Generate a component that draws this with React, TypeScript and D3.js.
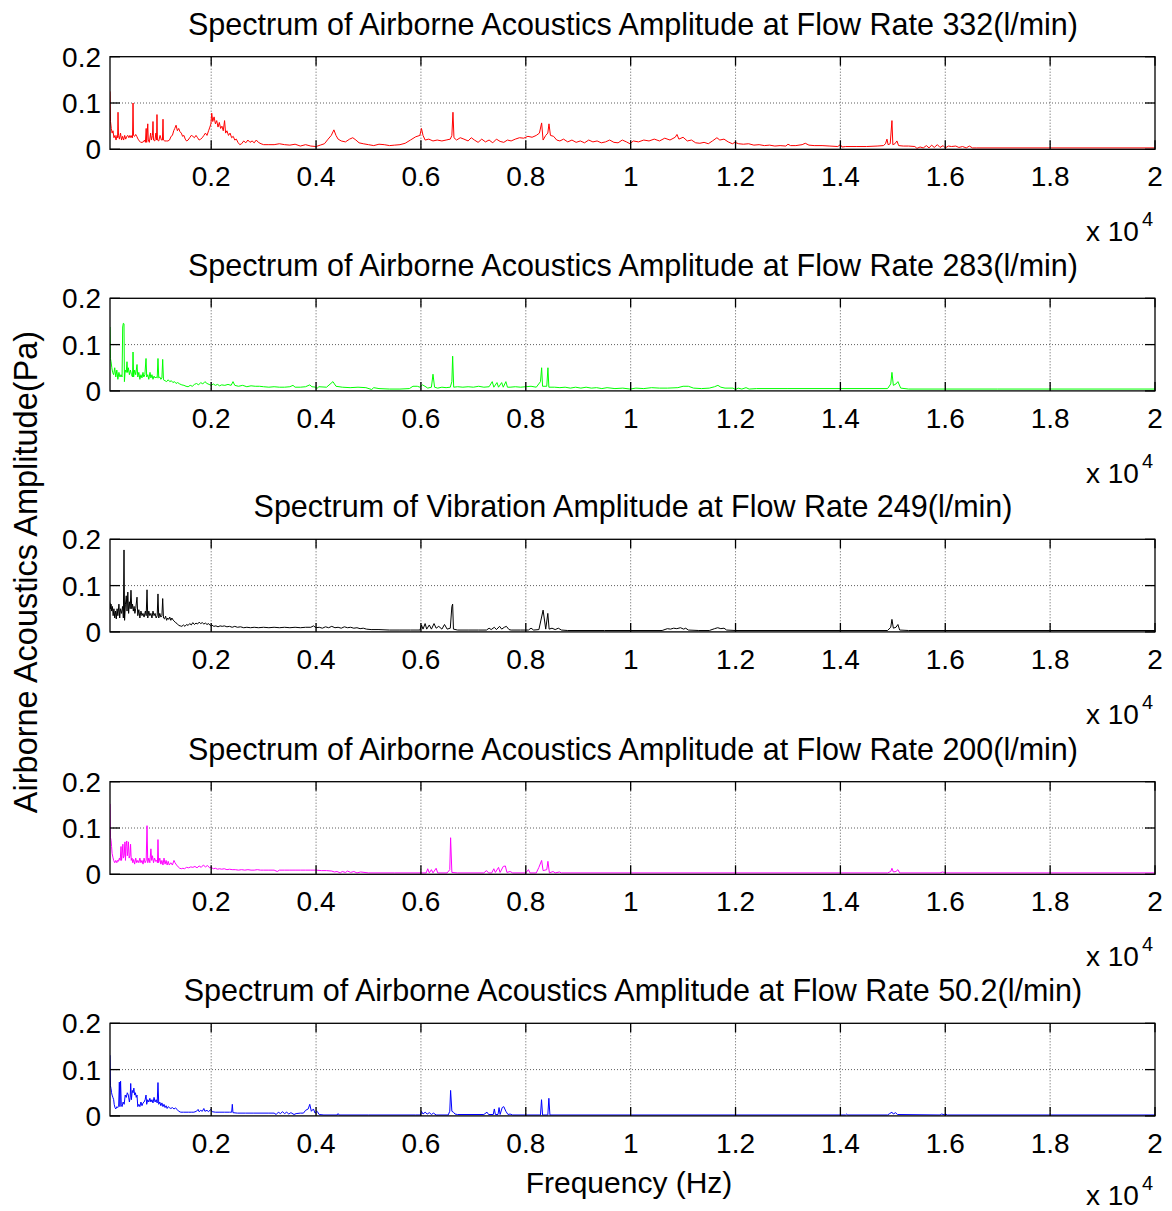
import React from "react";
import * as d3 from "d3";

// ---------- data ----------
const xTickValues = [2000, 4000, 6000, 8000, 10000, 12000, 14000, 16000, 18000, 20000];
const xTickLabels = ["0.2", "0.4", "0.6", "0.8", "1", "1.2", "1.4", "1.6", "1.8", "2"];
const yTickValues = [0, 0.1, 0.2];
const yTickLabels = ["0", "0.1", "0.2"];

const panelTitles = [
  "Spectrum of Airborne Acoustics Amplitude at Flow Rate 332(l/min)",
  "Spectrum of Airborne Acoustics Amplitude at Flow Rate 283(l/min)",
  "Spectrum of Vibration Amplitude at Flow Rate 249(l/min)",
  "Spectrum of Airborne Acoustics Amplitude at Flow Rate 200(l/min)",
  "Spectrum of Airborne Acoustics Amplitude at Flow Rate 50.2(l/min)",
];
const panelColors = ["#ff0000", "#00ff00", "#000000", "#ff00ff", "#0000ff"];

// [frequency Hz, amplitude Pa]
const spec332: [number, number][] = [
[70,0.125],[80,0.06],[95,0.045],[110,0.035],[127,0.04],[145,0.025],[165,0.03],[185,0.02],[205,0.03],[215,0.025],[223,0.08],[232,0.03],[250,0.022],[270,0.035],[290,0.02],[310,0.028],[330,0.02],[350,0.03],[370,0.022],[390,0.028],[410,0.03],[430,0.025],[450,0.03],[470,0.025],[490,0.03],[500,0.025],[509,0.1],[518,0.03],[540,0.028],[560,0.032],[580,0.028],[605,0.022],[630,0.018],[655,0.015],[680,0.015],[705,0.016],[730,0.02],[745,0.015],[760,0.045],[770,0.015],[790,0.055],[800,0.02],[820,0.015],[845,0.035],[860,0.02],[880,0.03],[890,0.06],[900,0.02],[925,0.018],[945,0.035],[958,0.02],[966,0.075],[975,0.02],[1000,0.018],[1025,0.03],[1050,0.02],[1070,0.02],[1081,0.065],[1090,0.02],[1115,0.018],[1145,0.018],[1175,0.018],[1205,0.02],[1235,0.028],[1260,0.03],[1285,0.04],[1305,0.045],[1330,0.052],[1355,0.04],[1380,0.045],[1405,0.038],[1430,0.035],[1455,0.028],[1480,0.03],[1505,0.022],[1530,0.018],[1560,0.02],[1590,0.025],[1620,0.03],[1650,0.028],[1680,0.025],[1710,0.03],[1740,0.025],[1770,0.02],[1800,0.022],[1830,0.025],[1860,0.03],[1890,0.035],[1920,0.03],[1950,0.04],[1975,0.048],[1995,0.055],[2010,0.078],[2030,0.06],[2055,0.07],[2080,0.055],[2105,0.062],[2130,0.048],[2155,0.058],[2180,0.045],[2205,0.05],[2230,0.04],[2255,0.062],[2275,0.035],[2300,0.04],[2330,0.03],[2360,0.035],[2390,0.025],[2420,0.028],[2450,0.02],[2480,0.022],[2510,0.015],[2545,0.01],[2580,0.012],[2620,0.018],[2660,0.014],[2700,0.02],[2740,0.015],[2780,0.018],[2820,0.014],[2860,0.02],[2900,0.015],[2950,0.012],[3000,0.01],[3100,0.01],[3200,0.01],[3300,0.012],[3400,0.01],[3500,0.009],[3600,0.011],[3700,0.007],[3800,0.01],[3900,0.007],[4000,0.006],[4080,0.009],[4160,0.012],[4230,0.022],[4290,0.03],[4340,0.042],[4380,0.03],[4420,0.022],[4480,0.018],[4560,0.016],[4640,0.022],[4700,0.025],[4760,0.02],[4820,0.014],[4900,0.012],[5000,0.01],[5100,0.008],[5200,0.011],[5300,0.01],[5400,0.008],[5500,0.009],[5600,0.01],[5700,0.013],[5800,0.02],[5900,0.027],[5980,0.03],[6010,0.045],[6040,0.03],[6080,0.02],[6150,0.022],[6230,0.018],[6310,0.02],[6400,0.018],[6480,0.02],[6560,0.022],[6590,0.03],[6611,0.08],[6630,0.025],[6680,0.02],[6750,0.025],[6820,0.022],[6900,0.018],[6960,0.025],[7020,0.02],[7090,0.015],[7160,0.022],[7230,0.016],[7300,0.02],[7370,0.014],[7440,0.022],[7510,0.017],[7580,0.015],[7650,0.02],[7720,0.018],[7800,0.022],[7880,0.025],[7960,0.024],[8040,0.028],[8120,0.026],[8200,0.03],[8260,0.035],[8302,0.057],[8330,0.02],[8380,0.03],[8420,0.035],[8442,0.055],[8470,0.03],[8530,0.028],[8590,0.02],[8650,0.018],[8720,0.022],[8800,0.016],[8880,0.02],[8960,0.015],[9040,0.018],[9120,0.014],[9200,0.02],[9280,0.016],[9360,0.018],[9440,0.014],[9520,0.016],[9600,0.02],[9680,0.015],[9760,0.014],[9840,0.02],[9920,0.016],[9986,0.012],[10050,0.018],[10150,0.016],[10250,0.02],[10350,0.018],[10450,0.022],[10550,0.018],[10650,0.024],[10750,0.02],[10850,0.026],[10883,0.032],[10920,0.022],[11000,0.026],[11080,0.018],[11160,0.02],[11240,0.014],[11320,0.013],[11400,0.015],[11480,0.012],[11560,0.018],[11645,0.025],[11700,0.02],[11780,0.022],[11860,0.016],[11940,0.012],[11989,0.015],[12060,0.012],[12150,0.011],[12250,0.012],[12350,0.009],[12450,0.01],[12550,0.008],[12650,0.009],[12750,0.007],[12850,0.008],[12960,0.007],[13000,0.011],[13050,0.008],[13150,0.008],[13270,0.01],[13330,0.013],[13400,0.009],[13500,0.008],[13650,0.008],[13800,0.007],[13950,0.006],[14000,0.01],[14030,0.005],[14100,0.006],[14300,0.006],[14500,0.006],[14700,0.007],[14820,0.008],[14860,0.012],[14888,0.022],[14910,0.01],[14950,0.012],[14983,0.062],[15000,0.01],[15040,0.012],[15078,0.018],[15110,0.008],[15200,0.007],[15300,0.007],[15420,0.006],[15460,0.002],[15520,0.005],[15580,0.003],[15640,0.008],[15690,0.003],[15740,0.009],[15790,0.004],[15850,0.01],[15900,0.004],[15960,0.008],[16000,0.003],[16060,0.007],[16120,0.006],[16200,0.007],[16260,0.004],[16330,0.006],[16400,0.003],[16460,0.007],[16520,0.003],[16600,0.003],[18000,0.003],[20000,0.003]
];

const spec283: [number, number][] = [
[70,0.138],[78,0.07],[90,0.063],[105,0.05],[120,0.04],[140,0.035],[160,0.05],[180,0.03],[200,0.045],[220,0.025],[240,0.04],[260,0.03],[280,0.035],[300,0.03],[312,0.138],[324,0.146],[337,0.145],[345,0.02],[360,0.045],[380,0.04],[394,0.063],[405,0.04],[420,0.05],[440,0.035],[460,0.045],[480,0.035],[500,0.03],[509,0.084],[520,0.03],[540,0.045],[560,0.035],[585,0.057],[600,0.03],[620,0.04],[640,0.025],[660,0.035],[680,0.028],[699,0.04],[715,0.03],[735,0.035],[757,0.07],[770,0.03],[790,0.035],[810,0.025],[833,0.04],[850,0.028],[870,0.035],[890,0.025],[910,0.032],[930,0.028],[950,0.03],[970,0.028],[985,0.07],[1000,0.028],[1020,0.03],[1040,0.025],[1060,0.028],[1075,0.068],[1090,0.024],[1120,0.022],[1150,0.02],[1180,0.024],[1210,0.02],[1240,0.022],[1270,0.018],[1300,0.02],[1330,0.016],[1360,0.018],[1400,0.015],[1440,0.013],[1480,0.012],[1520,0.01],[1560,0.009],[1600,0.012],[1640,0.01],[1680,0.014],[1720,0.016],[1760,0.013],[1800,0.018],[1840,0.015],[1880,0.02],[1920,0.016],[1960,0.014],[2000,0.012],[2040,0.015],[2080,0.012],[2120,0.014],[2160,0.011],[2200,0.013],[2260,0.012],[2320,0.014],[2380,0.012],[2416,0.02],[2450,0.012],[2520,0.01],[2600,0.012],[2680,0.009],[2760,0.011],[2840,0.01],[2920,0.01],[3000,0.009],[3100,0.008],[3200,0.009],[3300,0.008],[3400,0.008],[3500,0.009],[3560,0.012],[3600,0.008],[3700,0.008],[3800,0.009],[3880,0.013],[3920,0.009],[4000,0.008],[4017,0.005],[4050,0.009],[4200,0.008],[4322,0.02],[4380,0.01],[4500,0.008],[4650,0.007],[4800,0.008],[4950,0.007],[5060,0.003],[5100,0.007],[5200,0.005],[5400,0.004],[5600,0.004],[5780,0.005],[5848,0.01],[5930,0.01],[5982,0.008],[6030,0.013],[6077,0.01],[6130,0.006],[6200,0.008],[6230,0.036],[6260,0.008],[6320,0.006],[6400,0.008],[6480,0.007],[6560,0.008],[6590,0.02],[6605,0.075],[6625,0.008],[6700,0.009],[6800,0.008],[6900,0.009],[7000,0.008],[7100,0.01],[7200,0.008],[7300,0.009],[7360,0.02],[7390,0.008],[7450,0.018],[7480,0.008],[7540,0.018],[7570,0.008],[7620,0.02],[7650,0.008],[7700,0.008],[7800,0.009],[7900,0.008],[8000,0.009],[8100,0.01],[8200,0.008],[8280,0.02],[8302,0.05],[8320,0.01],[8400,0.01],[8422,0.05],[8440,0.008],[8550,0.008],[8650,0.007],[8750,0.008],[8850,0.006],[8950,0.008],[9050,0.006],[9150,0.008],[9250,0.006],[9350,0.007],[9450,0.005],[9550,0.007],[9700,0.005],[9850,0.006],[9986,0.004],[10100,0.006],[10250,0.005],[10400,0.007],[10550,0.006],[10700,0.006],[10900,0.007],[11000,0.01],[11100,0.01],[11200,0.006],[11350,0.005],[11500,0.006],[11600,0.009],[11664,0.012],[11720,0.008],[11800,0.006],[11950,0.006],[12000,0.003],[12050,0.006],[12120,0.004],[12200,0.007],[12260,0.004],[12400,0.005],[13000,0.005],[14000,0.005],[14900,0.005],[14960,0.015],[14983,0.04],[15010,0.012],[15060,0.015],[15097,0.02],[15150,0.006],[15300,0.004],[17000,0.004],[20000,0.004]
];

const spec249: [number, number][] = [
[70,0.063],[80,0.05],[90,0.06],[100,0.045],[115,0.055],[130,0.035],[145,0.05],[160,0.03],[175,0.045],[190,0.028],[205,0.05],[220,0.035],[240,0.06],[255,0.03],[270,0.05],[290,0.04],[310,0.055],[325,0.03],[337,0.177],[348,0.025],[365,0.06],[380,0.078],[395,0.045],[410,0.086],[425,0.04],[440,0.065],[455,0.05],[470,0.09],[485,0.05],[500,0.06],[515,0.045],[530,0.055],[545,0.04],[560,0.05],[585,0.075],[600,0.035],[620,0.048],[640,0.03],[660,0.045],[680,0.035],[699,0.04],[720,0.032],[745,0.045],[760,0.035],[776,0.091],[790,0.03],[810,0.045],[830,0.035],[850,0.04],[870,0.03],[890,0.045],[910,0.035],[930,0.04],[950,0.03],[970,0.035],[985,0.082],[1000,0.03],[1020,0.04],[1040,0.032],[1060,0.035],[1075,0.072],[1090,0.03],[1110,0.028],[1130,0.034],[1150,0.025],[1170,0.03],[1190,0.027],[1210,0.032],[1230,0.025],[1250,0.03],[1270,0.026],[1290,0.024],[1320,0.02],[1350,0.018],[1380,0.014],[1410,0.013],[1440,0.012],[1470,0.015],[1500,0.012],[1530,0.016],[1560,0.014],[1590,0.018],[1620,0.015],[1650,0.02],[1680,0.016],[1710,0.019],[1740,0.017],[1770,0.021],[1800,0.018],[1830,0.02],[1860,0.017],[1890,0.019],[1920,0.016],[1950,0.018],[1980,0.014],[2010,0.015],[2050,0.012],[2090,0.013],[2130,0.011],[2170,0.013],[2210,0.012],[2250,0.013],[2300,0.011],[2350,0.012],[2400,0.01],[2450,0.012],[2500,0.01],[2560,0.011],[2620,0.009],[2680,0.01],[2750,0.009],[2820,0.01],[2900,0.009],[3000,0.01],[3100,0.009],[3200,0.01],[3300,0.009],[3400,0.01],[3500,0.009],[3600,0.01],[3700,0.009],[3800,0.01],[3900,0.01],[3950,0.013],[4000,0.009],[4060,0.01],[4120,0.008],[4180,0.011],[4240,0.009],[4300,0.012],[4360,0.009],[4420,0.01],[4480,0.008],[4540,0.011],[4600,0.009],[4660,0.01],[4720,0.008],[4780,0.009],[4840,0.007],[4900,0.008],[4960,0.006],[5050,0.005],[5200,0.005],[5400,0.004],[5600,0.004],[5800,0.004],[5982,0.004],[6010,0.015],[6040,0.006],[6080,0.018],[6110,0.006],[6160,0.015],[6200,0.006],[6250,0.018],[6290,0.008],[6340,0.012],[6400,0.006],[6450,0.016],[6500,0.006],[6560,0.008],[6590,0.055],[6605,0.06],[6620,0.006],[6700,0.004],[6900,0.004],[7100,0.004],[7250,0.004],[7300,0.008],[7340,0.005],[7400,0.01],[7440,0.005],[7500,0.012],[7540,0.006],[7590,0.01],[7630,0.012],[7680,0.005],[7720,0.004],[7900,0.004],[8050,0.004],[8100,0.008],[8150,0.004],[8250,0.005],[8330,0.047],[8380,0.006],[8420,0.04],[8445,0.006],[8500,0.008],[8560,0.005],[8620,0.008],[8680,0.004],[8800,0.003],[9500,0.003],[10000,0.003],[10600,0.003],[10700,0.007],[10760,0.006],[10820,0.008],[10880,0.007],[10950,0.009],[11010,0.006],[11050,0.008],[11100,0.004],[11300,0.003],[11500,0.003],[11600,0.007],[11660,0.009],[11720,0.007],[11780,0.008],[11830,0.004],[12000,0.003],[14900,0.003],[14960,0.01],[14983,0.027],[15010,0.008],[15060,0.01],[15097,0.016],[15130,0.004],[15300,0.003],[20000,0.003]
];

const spec200: [number, number][] = [
[70,0.152],[78,0.08],[90,0.073],[100,0.06],[110,0.045],[125,0.037],[140,0.03],[160,0.025],[180,0.03],[200,0.025],[215,0.03],[230,0.028],[250,0.035],[265,0.03],[280,0.06],[290,0.03],[300,0.04],[315,0.065],[325,0.035],[340,0.04],[355,0.07],[365,0.03],[375,0.06],[390,0.072],[400,0.04],[410,0.05],[422,0.07],[435,0.035],[450,0.04],[462,0.065],[475,0.03],[490,0.035],[505,0.025],[520,0.032],[540,0.022],[560,0.035],[580,0.025],[600,0.03],[620,0.025],[640,0.035],[660,0.025],[680,0.03],[700,0.022],[720,0.035],[740,0.025],[760,0.03],[776,0.105],[790,0.025],[810,0.035],[830,0.025],[850,0.055],[865,0.03],[880,0.04],[900,0.025],[920,0.035],[940,0.028],[960,0.03],[975,0.025],[985,0.075],[997,0.025],[1020,0.035],[1040,0.022],[1060,0.03],[1080,0.02],[1100,0.035],[1120,0.022],[1140,0.03],[1160,0.02],[1180,0.028],[1200,0.02],[1230,0.025],[1260,0.02],[1290,0.03],[1310,0.025],[1340,0.02],[1370,0.016],[1400,0.013],[1430,0.012],[1460,0.013],[1490,0.012],[1530,0.015],[1570,0.014],[1610,0.016],[1650,0.015],[1690,0.017],[1730,0.014],[1770,0.018],[1810,0.015],[1850,0.02],[1890,0.016],[1930,0.019],[1970,0.014],[2000,0.015],[2040,0.012],[2080,0.013],[2120,0.011],[2160,0.012],[2200,0.011],[2250,0.012],[2300,0.01],[2350,0.011],[2400,0.01],[2460,0.01],[2520,0.009],[2580,0.01],[2640,0.009],[2700,0.01],[2760,0.009],[2820,0.009],[2880,0.01],[2940,0.009],[3000,0.009],[3100,0.009],[3200,0.009],[3260,0.006],[3300,0.009],[3400,0.009],[3500,0.009],[3600,0.009],[3700,0.009],[3800,0.009],[3900,0.009],[4000,0.009],[4100,0.008],[4200,0.008],[4300,0.007],[4350,0.005],[4400,0.006],[4460,0.003],[4500,0.006],[4560,0.004],[4600,0.007],[4660,0.004],[4720,0.006],[4780,0.003],[4850,0.005],[5000,0.003],[5500,0.003],[6000,0.003],[6100,0.003],[6130,0.012],[6160,0.003],[6200,0.01],[6230,0.003],[6290,0.013],[6320,0.003],[6500,0.003],[6550,0.01],[6566,0.079],[6590,0.004],[6700,0.003],[7200,0.003],[7250,0.008],[7290,0.003],[7350,0.003],[7390,0.012],[7420,0.004],[7480,0.015],[7510,0.004],[7570,0.017],[7610,0.018],[7640,0.004],[7700,0.006],[7750,0.003],[8000,0.003],[8050,0.01],[8080,0.003],[8200,0.003],[8250,0.015],[8302,0.03],[8330,0.008],[8400,0.01],[8422,0.028],[8450,0.003],[8520,0.006],[8560,0.003],[8640,0.005],[8680,0.003],[10000,0.003],[14900,0.003],[14960,0.006],[14983,0.013],[15010,0.005],[15060,0.006],[15097,0.01],[15130,0.003],[15900,0.003],[15950,0.005],[16000,0.003],[20000,0.003]
];

const spec50_2: [number, number][] = [
[70,0.131],[78,0.065],[90,0.059],[100,0.05],[110,0.045],[125,0.04],[140,0.035],[150,0.025],[165,0.018],[180,0.015],[200,0.02],[220,0.018],[235,0.02],[248,0.073],[260,0.02],[272,0.075],[285,0.025],[300,0.02],[320,0.03],[340,0.025],[360,0.045],[380,0.04],[400,0.05],[420,0.045],[440,0.03],[455,0.04],[465,0.07],[478,0.035],[495,0.055],[510,0.05],[525,0.06],[540,0.045],[555,0.05],[570,0.04],[585,0.045],[600,0.02],[620,0.025],[640,0.02],[660,0.03],[680,0.022],[700,0.028],[720,0.03],[740,0.035],[757,0.045],[770,0.025],[790,0.035],[810,0.03],[830,0.038],[850,0.03],[870,0.035],[890,0.028],[910,0.04],[930,0.03],[950,0.035],[970,0.028],[985,0.072],[1000,0.025],[1020,0.03],[1040,0.022],[1060,0.028],[1080,0.02],[1100,0.025],[1120,0.018],[1140,0.022],[1160,0.016],[1180,0.02],[1200,0.018],[1230,0.016],[1260,0.018],[1290,0.015],[1320,0.017],[1350,0.014],[1380,0.01],[1420,0.008],[1470,0.008],[1520,0.008],[1570,0.008],[1620,0.008],[1670,0.008],[1720,0.01],[1750,0.014],[1770,0.009],[1800,0.012],[1830,0.01],[1860,0.016],[1880,0.01],[1920,0.012],[1950,0.009],[1990,0.014],[2020,0.009],[2080,0.008],[2150,0.008],[2250,0.008],[2350,0.008],[2390,0.008],[2403,0.025],[2415,0.007],[2500,0.006],[2650,0.006],[2800,0.006],[2950,0.006],[3100,0.006],[3200,0.006],[3240,0.003],[3280,0.008],[3320,0.005],[3360,0.009],[3400,0.005],[3440,0.008],[3480,0.004],[3520,0.007],[3580,0.003],[3620,0.005],[3700,0.006],[3760,0.006],[3800,0.012],[3850,0.015],[3880,0.025],[3910,0.01],[3950,0.015],[3980,0.006],[4020,0.01],[4060,0.003],[4150,0.002],[4400,0.002],[4420,0.005],[4440,0.002],[5000,0.002],[5900,0.002],[5990,0.002],[6010,0.01],[6040,0.004],[6080,0.008],[6120,0.004],[6160,0.007],[6200,0.003],[6240,0.006],[6290,0.002],[6520,0.002],[6550,0.01],[6566,0.055],[6590,0.01],[6620,0.008],[6650,0.004],[6700,0.003],[7200,0.003],[7260,0.008],[7290,0.003],[7380,0.003],[7400,0.015],[7420,0.003],[7470,0.003],[7490,0.018],[7510,0.003],[7550,0.018],[7580,0.02],[7620,0.01],[7660,0.003],[7700,0.004],[7750,0.002],[8280,0.002],[8300,0.035],[8320,0.002],[8420,0.002],[8440,0.038],[8460,0.002],[10000,0.002],[14100,0.002],[14120,0.004],[14140,0.002],[14900,0.002],[14940,0.005],[14983,0.008],[15010,0.004],[15050,0.007],[15090,0.003],[15900,0.002],[15930,0.004],[16000,0.002],[16010,0.004],[16040,0.002],[20000,0.002]
];

const panelSeries = [spec332, spec283, spec249, spec200, spec50_2];

// ---------- layout ----------
const W = 1172;
const H = 1211;
const plotLeft = 110;
const plotRight = 1155;
const panelTops = [56.7, 298.3, 539.3, 781.7, 1023.3];
const panelH = 92.6;
const FONT = "'Liberation Sans', Arial, Helvetica, sans-serif";

const xScale = d3.scaleLinear().domain([70, 20000]).range([plotLeft, plotRight]);

function Panel({ idx }: { idx: number }) {
  const top = panelTops[idx];
  const bottom = top + panelH;
  const yScale = d3.scaleLinear().domain([0, 0.2]).range([bottom, top]);
  const line = d3
    .line<[number, number]>()
    .x((d) => xScale(d[0]))
    .y((d) => yScale(d[1]));
  const tickLen = 9;
  const clipId = `clip${idx}`;
  const expOffset = idx === panelTitles.length - 1 ? 89 : 92;
  return (
    <g>
      <defs>
        <clipPath id={clipId}>
          <rect x={plotLeft} y={top} width={plotRight - plotLeft} height={panelH} />
        </clipPath>
      </defs>
      <rect x={plotLeft} y={top} width={plotRight - plotLeft} height={panelH} fill="#fff" />
      {/* grid */}
      {xTickValues.slice(0, -1).map((v) => (
        <line key={"gx" + v} x1={xScale(v)} x2={xScale(v)} y1={top} y2={bottom}
          stroke="#333" strokeWidth={0.8} strokeDasharray="1 2" />
      ))}
      <line x1={plotLeft} x2={plotRight} y1={yScale(0.1)} y2={yScale(0.1)}
        stroke="#333" strokeWidth={0.8} strokeDasharray="1 2" />
      {/* data */}
      <path d={line(panelSeries[idx]) || ""} fill="none" stroke={panelColors[idx]}
        strokeWidth={1} clipPath={`url(#${clipId})`} strokeLinejoin="round" />
      {/* box */}
      <rect x={plotLeft} y={top} width={plotRight - plotLeft} height={panelH}
        fill="none" stroke="#000" strokeWidth={1.3} />
      {/* x ticks */}
      {xTickValues.map((v) => (
        <g key={"tx" + v}>
          <line x1={xScale(v)} x2={xScale(v)} y1={top} y2={top + tickLen} stroke="#000" strokeWidth={1.3} />
          <line x1={xScale(v)} x2={xScale(v)} y1={bottom} y2={bottom - tickLen} stroke="#000" strokeWidth={1.3} />
        </g>
      ))}
      {/* y ticks */}
      {yTickValues.map((v) => (
        <g key={"ty" + v}>
          <line x1={plotLeft} x2={plotLeft + 10} y1={yScale(v)} y2={yScale(v)} stroke="#000" strokeWidth={1.3} />
          <line x1={plotRight} x2={plotRight - 10} y1={yScale(v)} y2={yScale(v)} stroke="#000" strokeWidth={1.3} />
        </g>
      ))}
      {/* x tick labels */}
      {xTickValues.map((v, i) => (
        <text key={"lx" + v} x={xScale(v)} y={bottom + 37} textAnchor="middle"
          fontSize={28} fontFamily={FONT} fill="#000">{xTickLabels[i]}</text>
      ))}
      {/* y tick labels */}
      {yTickValues.map((v, i) => (
        <text key={"ly" + v} x={101} y={yScale(v) + 10} textAnchor="end"
          fontSize={28} fontFamily={FONT} fill="#000">{yTickLabels[i]}</text>
      ))}
      {/* exponent */}
      <text x={1086} y={bottom + expOffset} fontSize={28} fontFamily={FONT} fill="#000">x 10</text>
      <text x={1142} y={bottom + expOffset - 15} fontSize={20} fontFamily={FONT} fill="#000">4</text>
      {/* title */}
      <text x={633} y={top - 22} textAnchor="middle" fontSize={30.5} fontFamily={FONT} fill="#000">
        {panelTitles[idx]}
      </text>
    </g>
  );
}

export default function App() {
  return (
    <svg width={W} height={H} style={{ position: "absolute", left: 0, top: 0, background: "#fff" }}>
      <rect width={W} height={H} fill="#fff" />
      {panelTitles.map((_, i) => (
        <Panel key={i} idx={i} />
      ))}
      <text x={629} y={1193} textAnchor="middle" fontSize={30} fontFamily={FONT} fill="#000">
        Frequency (Hz)
      </text>
      <text transform="translate(37,572) rotate(-90)" textAnchor="middle" fontSize={32.5}
        fontFamily={FONT} fill="#000">
        Airborne Acoustics Amplitude(Pa)
      </text>
    </svg>
  );
}
